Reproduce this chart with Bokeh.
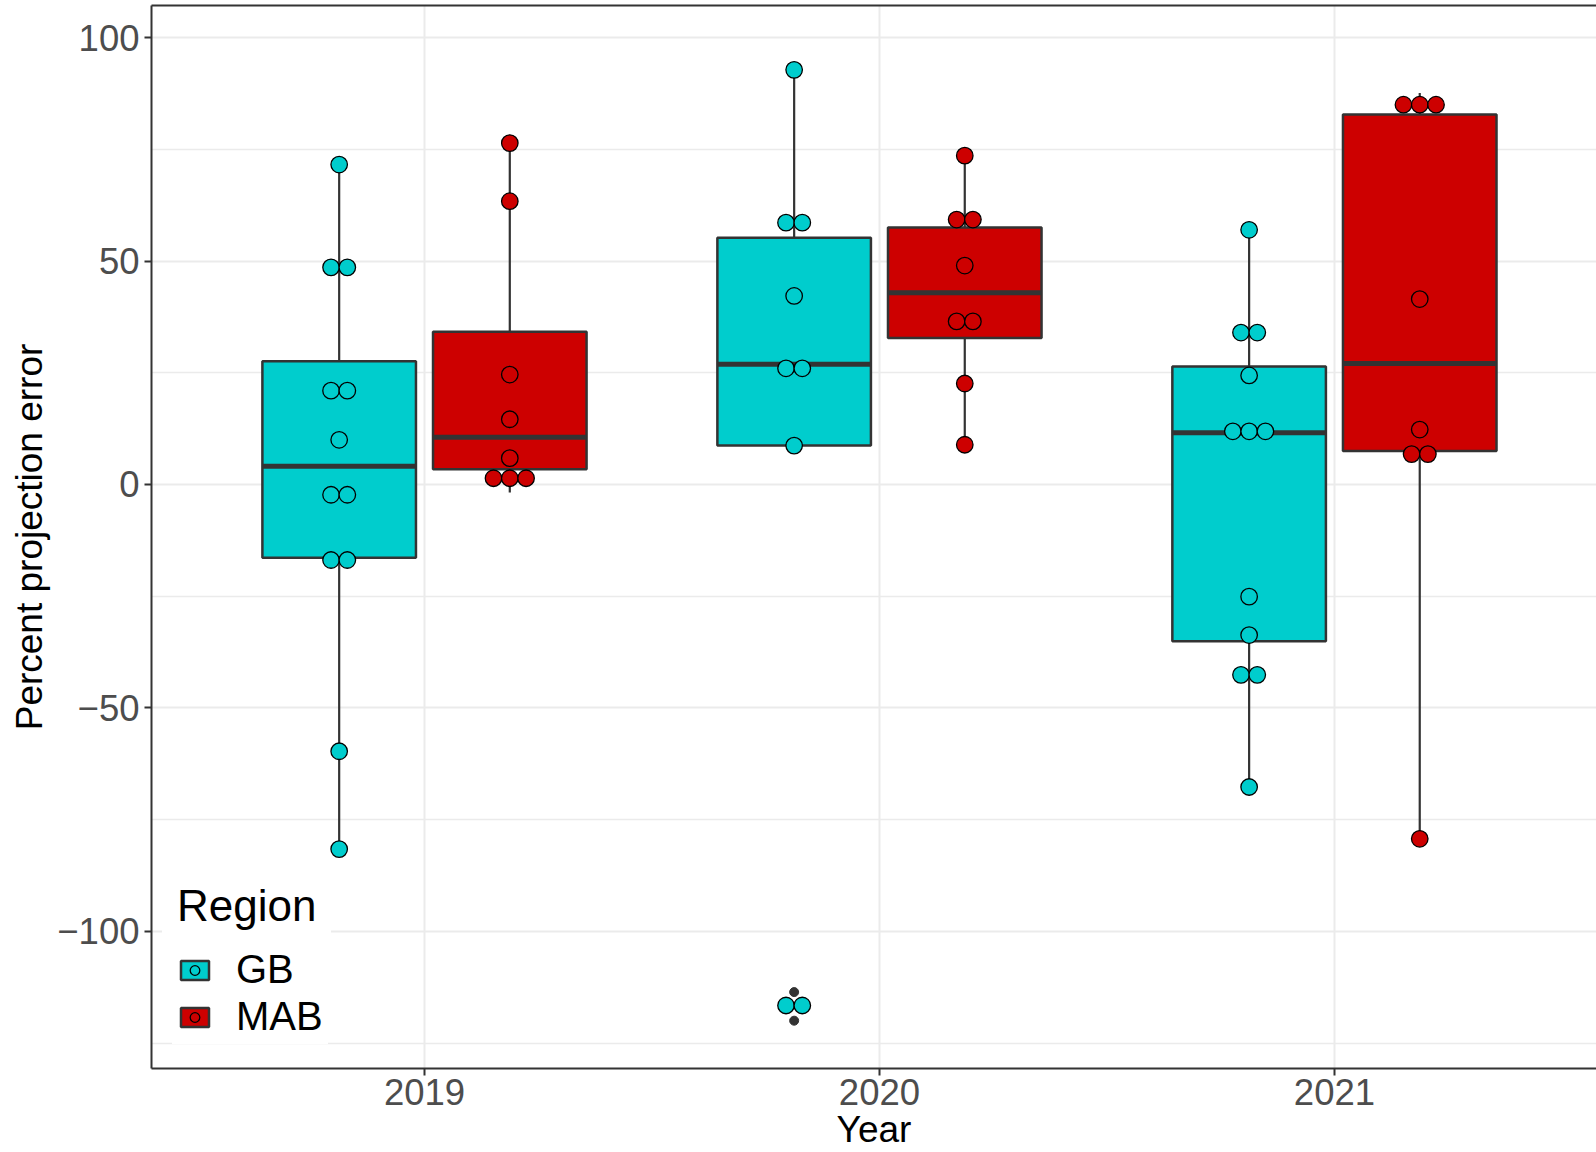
import numpy as np
from bokeh.plotting import figure
from bokeh.models import Range1d, FixedTicker, LinearAxis, Legend, LegendItem, ColumnDataSource
from bokeh.embed import file_html
from bokeh.resources import INLINE

# ---------------- data ----------------
years = ["2019", "2020", "2021"]
regions = ["GB", "MAB"]

# box statistics per year (2019, 2020, 2021)
gb_low = [-81.6, 8.7, -67.7]
gb_q1 = [-16.4, 8.7, -35.1]
gb_median = [4.1, 26.9, 11.6]
gb_q3 = [27.6, 55.2, 26.4]
gb_high = [71.6, 92.8, 57.0]

mab_low = [-1.8, 8.9, -79.3]
mab_q1 = [3.4, 32.8, 7.5]
mab_median = [10.6, 42.9, 27.1]
mab_q3 = [34.2, 57.5, 82.8]
mab_high = [76.4, 73.6, 87.6]

# boxplot outliers
gb_outlier_year = ["2020", "2020"]
gb_outlier_value = [-113.6, -120.0]

# dot-plot points (binned values)
gb_dots_2019 = [71.6, 48.6, 48.6, 21.0, 21.0, 10.0, -2.3, -2.3, -16.9, -16.9, -59.7, -81.6]
gb_dots_2020 = [92.8, 58.6, 58.6, 42.2, 26.0, 26.0, 8.7, -116.6, -116.6]
gb_dots_2021 = [57.0, 34.0, 34.0, 24.4, 11.9, 11.9, 11.9, -25.1, -33.7, -42.6, -42.6, -67.7]

mab_dots_2019 = [76.4, 63.4, 24.6, 14.6, 5.9, 1.4, 1.4, 1.4]
mab_dots_2020 = [73.6, 59.3, 59.3, 49.0, 36.5, 36.5, 22.6, 8.9]
mab_dots_2021 = [85.0, 85.0, 85.0, 41.5, 12.3, 6.8, 6.8, -79.3]

y_ticks = [-100, -50, 0, 50, 100]
y_minor = [-125, -75, -25, 25, 75]

# ---------------- styling ----------------
FONT = "Liberation Sans"
GB_COL = "#00CDCD"
MAB_COL = "#CD0000"
DARK = "#333333"
GRID = "#EBEBEB"
DODGE = 0.1875
HALF_W = 0.16875
DOT_STEP = 0.0358

year_pos = {y: i + 1 for i, y in enumerate(years)}

p = figure(width=1596, height=1152, output_backend="svg", toolbar_location=None,
           x_range=Range1d(0.4, 3.576), y_range=Range1d(-130.7, 107.2),
           min_border_left=151, min_border_right=0, min_border_top=5, min_border_bottom=0,
           background_fill_color="white", border_fill_color="white")
p.outline_line_color = None


def stack(center, values, step):
    xs, ys, seen = [], [], []
    for v in values:
        if v not in seen:
            seen.append(v)
    for u in seen:
        n = values.count(u)
        for k in range(n):
            xs.append(center + (k - (n - 1) / 2) * step)
            ys.append(u)
    return xs, ys


groups = [
    ("GB", -DODGE, GB_COL, gb_low, gb_q1, gb_median, gb_q3, gb_high,
     [gb_dots_2019, gb_dots_2020, gb_dots_2021]),
    ("MAB", DODGE, MAB_COL, mab_low, mab_q1, mab_median, mab_q3, mab_high,
     [mab_dots_2019, mab_dots_2020, mab_dots_2021]),
]

legend_items = []
dot_layers = []
for name, off, col, lo, q1, med, q3, hi, dots in groups:
    xc = [year_pos[y] + off for y in years]
    src = ColumnDataSource(dict(
        x=xc, left=[x - HALF_W for x in xc], right=[x + HALF_W for x in xc],
        lo=lo, q1=q1, med=med, q3=q3, hi=hi))
    p.segment(x0="x", y0="lo", x1="x", y1="hi", source=src, line_color=DARK, line_width=2.2)
    box = p.quad(left="left", right="right", bottom="q1", top="q3", source=src,
                 fill_color=col, line_color=DARK, line_width=2.5)
    p.segment(x0="left", y0="med", x1="right", y1="med", source=src,
              line_color=DARK, line_width=5)
    dx, dy = [], []
    for y, vals in zip(years, dots):
        sx, sy = stack(year_pos[y] + off, vals, DOT_STEP)
        dx += sx
        dy += sy
    dot_layers.append((name, box, col, dx, dy))

# outliers of the boxplot
p.scatter(x=[year_pos[y] - DODGE for y in gb_outlier_year], y=gb_outlier_value,
          size=9, fill_color=DARK, line_color=DARK)

for name, box, col, dx, dy in dot_layers:
    dots_r = p.scatter(x=dx, y=dy, size=16.5, fill_color=col, line_color="black", line_width=1.3)
    legend_items.append(LegendItem(label=name, renderers=[box, dots_r]))

# ---------------- axes ----------------
p.xaxis.ticker = FixedTicker(ticks=[year_pos[y] for y in years])
p.xaxis.major_label_overrides = {year_pos[y]: y for y in years}
p.yaxis.ticker = FixedTicker(ticks=y_ticks, minor_ticks=y_minor)
p.yaxis.major_label_overrides = {t: (str(t).replace("-", "\u2212")) for t in y_ticks}

for ax in (p.xaxis[0], p.yaxis[0]):
    ax.axis_line_color = DARK
    ax.axis_line_width = 2
    ax.major_tick_line_color = DARK
    ax.major_tick_line_width = 2
    ax.major_tick_out = 7
    ax.major_tick_in = 0
    ax.minor_tick_out = 0
    ax.minor_tick_in = 0
    ax.major_label_text_font = FONT
    ax.major_label_text_font_size = "36.5px"
    ax.major_label_text_color = "#4D4D4D"
    ax.axis_label_text_font = FONT
    ax.axis_label_text_font_size = "37px"
    ax.axis_label_text_font_style = "normal"
    ax.axis_label_text_color = "black"

p.xaxis.axis_label = "Year"
p.yaxis.axis_label = "Percent projection error"
p.xaxis.major_label_standoff = 3
p.xaxis.axis_label_standoff = 1
p.yaxis.major_label_standoff = 5
p.yaxis.axis_label_standoff = 4

top_axis = LinearAxis(ticker=FixedTicker(ticks=[]), axis_line_color=DARK, axis_line_width=2,
                      major_tick_out=0, major_tick_in=0, minor_tick_out=0, minor_tick_in=0)
p.add_layout(top_axis, "above")

# ---------------- grid ----------------
p.xgrid.ticker = FixedTicker(ticks=[year_pos[y] for y in years])
p.xgrid.grid_line_color = GRID
p.xgrid.grid_line_width = 2
p.ygrid.ticker = FixedTicker(ticks=y_ticks, minor_ticks=y_minor)
p.ygrid.grid_line_color = GRID
p.ygrid.grid_line_width = 2
p.ygrid.minor_grid_line_color = GRID
p.ygrid.minor_grid_line_width = 1.3

# ---------------- legend (title + first key, then second key) ----------------
common = dict(label_text_font=FONT, label_text_font_size="40px", label_text_color="black",
              glyph_width=35, glyph_height=24, label_standoff=24, spacing=0, margin=0,
              border_line_color="white", border_line_width=1,
              background_fill_color="white", background_fill_alpha=1.0)
legend_a = Legend(items=[legend_items[0]], location=(11, 61), title="Region",
                  title_text_font=FONT, title_text_font_size="44px", title_text_color="black",
                  title_text_font_style="normal", title_standoff=16, padding=14, **common)
legend_b = Legend(items=[legend_items[1]], location=(21, 24), padding=4, **common)
p.add_layout(legend_a)
p.add_layout(legend_b)

open("out.html", "w").write(file_html(p, INLINE))
